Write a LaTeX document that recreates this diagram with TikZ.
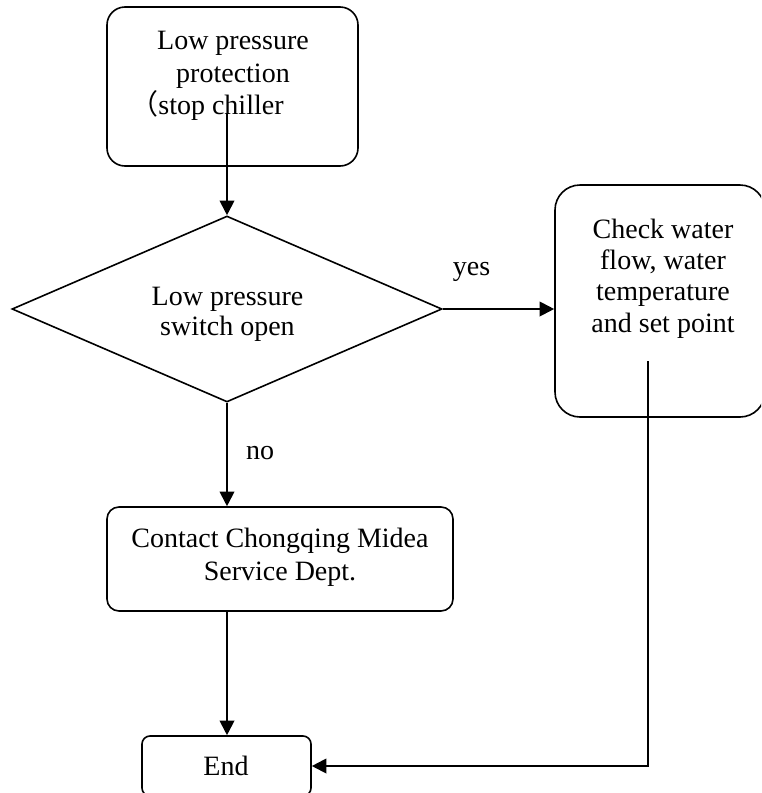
\documentclass[tikz,border=0pt]{standalone}
\usepackage{fontspec}
\setmainfont{Liberation Serif}
\newfontfamily\cjk{Noto Sans CJK SC}
\usetikzlibrary{shapes.geometric,arrows.meta}
\tikzset{
  box/.style={draw, line width=1.2pt, inner sep=0pt},
  txt/.style={align=center, inner sep=0pt},
  conn/.style={line width=1.5pt, -{Triangle[length=11pt,width=11pt]}},
}
\newcommand{\fs}[1]{\fontsize{21}{#1}\selectfont}
\begin{document}
\begin{tikzpicture}[x=0.75pt,y=-0.75pt]
\useasboundingbox (0,0) rectangle (761,793);
\clip (0,0) rectangle (761,793);
% boxes
\node[box, rounded corners=13.5pt, minimum width=188.25pt, minimum height=119.25pt] (top) at (232.5,86.5) {};
\node[txt, font=\fs{24.4pt}] (toptxt) at (233,76) {Low pressure\\protection\\{\cjk （}stop chiller\rule{39pt}{0pt}};
\node[box, diamond, minimum width=322.5pt, minimum height=139.5pt] (dia) at (227,309) {};
\node[txt, font=\fs{22.5pt}] (diatxt) at (227.5,314) {Low pressure\\switch open};
\node[box, rounded corners=18.75pt, minimum width=157.5pt, minimum height=174pt] (check) at (660,301) {};
\node[txt, font=\fs{23.5pt}] (checktxt) at (663,278.5) {Check water\\flow, water\\temperature\\and set point};
\node[box, rounded corners=9pt, minimum width=259.5pt, minimum height=78pt] (contact) at (280,559) {};
\node[txt, font=\fs{24.75pt}] (contacttxt) at (280,557) {Contact Chongqing Midea\\Service Dept.};
\node[box, rounded corners=6pt, minimum width=126.75pt, minimum height=45pt] (end) at (226.5,766) {};
\node[txt, font=\fs{24pt}] (endtxt) at (226,766) {End};
% labels
\node[txt, font=\fs{24pt}] (yes) at (471.5,271.5) {yes};
\node[txt, font=\fs{24pt}] (no) at (260,453.5) {no};
% connectors
\coordinate (s1) at (227,113);
\coordinate (s2) at (648,361);
\draw[conn] (s1) -- (s1 |- dia.north);
\draw[conn] (dia.east) -- (dia.east -| check.west);
\draw[conn] (dia.south) -- (dia.south |- contact.north);
\draw[conn] (dia.south |- contact.south) -- (dia.south |- end.north);
\draw[conn] (s2) -- (s2 |- end.east) -- (end.east);
\end{tikzpicture}
\end{document}
